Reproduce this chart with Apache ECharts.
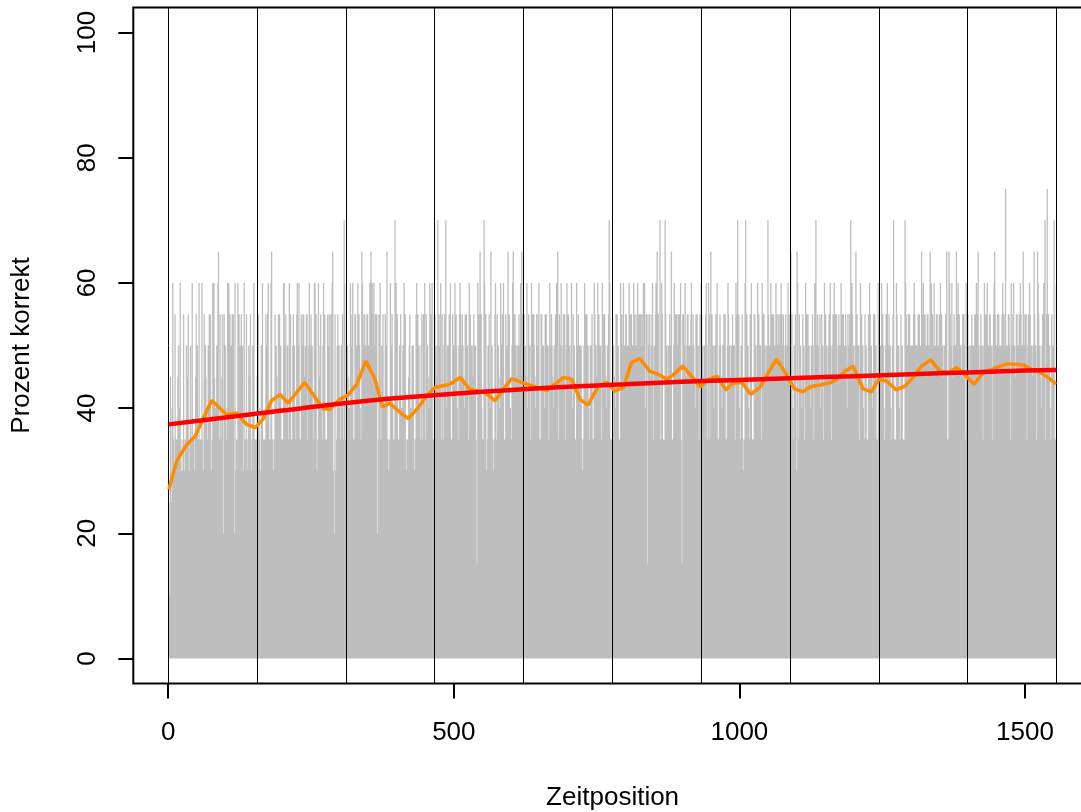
<!DOCTYPE html>
<html><head><meta charset="utf-8">
<script src="https://cdn.jsdelivr.net/npm/echarts@6/dist/echarts.min.js"></script>
<style>html,body{margin:0;padding:0;background:#fff}#c{width:1081px;height:812px}</style>
</head><body><div id="c"></div>
<script>
// Percent correct per time position (positions 1..1555), one array per session block
const session1 = [
25,10,10,45,20,25,40,60,35,25,30,55,20,35,30,35,
45,50,25,40,60,35,30,30,20,35,55,30,25,35,30,
50,40,45,55,25,30,35,50,30,35,60,25,35,35,30,25,
45,55,40,50,35,30,60,30,35,35,25,60,35,30,30,
55,50,50,45,40,35,30,50,50,55,35,55,30,30,35,60,
50,60,45,35,40,30,50,35,60,65,35,30,55,30,35,
45,55,15,20,55,35,50,35,25,40,60,35,60,30,55,35,
50,45,55,40,55,20,15,60,30,30,35,35,60,25,55,
45,50,40,55,35,50,30,25,60,35,35,30,55,35,30,30,
50,40,45,55,25,30,35,50,30,60,35,35,30,35,30];
const session2 = [
45,50,55,40,35,30,25,50,35,60,30,35,30,35,30,55,
50,45,55,60,40,30,35,35,60,65,30,35,30,25,35,
55,50,50,45,35,40,55,30,55,50,50,35,30,35,35,60,
60,45,50,55,40,30,50,35,35,60,30,55,35,30,35,
50,55,45,50,40,35,30,55,60,50,35,60,35,30,35,55,
55,50,50,55,45,35,50,40,55,55,35,35,50,60,30,
50,55,45,50,40,30,35,60,60,35,55,30,30,35,60,30,
45,50,55,40,30,35,50,60,35,55,30,35,35,30,55,
50,45,55,40,30,55,35,60,65,30,15,20,55,30,30,35,
50,55,45,50,40,30,35,50,35,55,30,35,70,60,35,30];
const session3 = [
55,50,50,45,35,40,30,60,55,50,35,60,30,35,35,55,
55,50,50,45,60,35,55,50,40,35,35,65,60,55,35,
50,55,45,50,50,55,55,40,50,35,60,55,65,30,60,35,
55,60,50,45,55,35,55,15,20,35,55,40,60,35,35,
50,45,55,35,40,35,55,50,30,65,35,30,30,35,35,60,
45,50,55,40,30,35,35,70,30,60,35,55,30,35,30,
50,45,55,35,40,35,50,30,60,35,55,30,30,35,35,35,
45,50,55,35,40,30,50,35,50,35,30,30,35,55,60,
50,55,45,50,40,30,35,50,55,35,30,55,30,60,35,35,
55,50,50,45,35,40,60,35,55,50,60,30,35,30,55];
const session4 = [
55,50,50,45,35,70,40,55,35,50,60,35,30,55,30,35,
50,55,45,70,40,35,50,35,50,55,30,60,30,35,35,
55,50,50,45,60,35,55,50,40,35,35,50,55,60,55,35,
50,55,50,45,35,40,55,30,55,50,50,35,35,60,30,
55,50,50,50,45,40,55,35,50,50,35,15,10,60,35,55,
50,65,45,55,40,30,35,35,70,60,35,55,30,30,35,
50,45,55,40,30,65,35,50,35,30,30,35,55,60,30,35,
55,50,50,45,35,40,60,35,50,55,30,60,30,35,35,
55,50,50,45,65,35,55,35,40,35,35,50,60,65,55,30,
55,50,50,45,35,50,40,55,35,50,60,35,65,35,55,30];
const session5 = [
55,50,50,45,35,60,40,35,55,50,50,35,30,60,30,55,
50,55,50,45,35,40,55,35,50,55,60,30,35,30,55,
55,45,50,50,35,40,55,30,55,35,50,50,35,35,60,30,
50,55,50,45,35,40,50,35,55,50,60,35,65,30,35,
55,50,50,60,45,35,50,55,40,55,35,35,50,60,55,30,
55,50,50,45,35,60,40,35,55,50,50,35,35,30,60,
50,45,55,50,40,50,35,50,35,30,30,35,50,60,35,55,
50,55,45,50,40,30,35,50,50,35,55,30,35,35,60,
55,50,50,45,35,60,40,55,35,50,50,35,30,60,35,55,
50,55,50,45,35,40,50,35,55,70,60,35,35,30,35];
const session6 = [
55,50,50,45,35,40,55,30,55,50,50,35,35,30,60,35,
55,50,50,60,45,50,40,55,55,35,50,35,50,60,55,
50,55,55,50,50,45,60,55,50,40,55,35,50,60,55,55,
55,50,55,55,45,50,55,60,50,60,35,40,55,15,15,
55,50,50,55,45,40,50,55,60,35,35,50,50,55,60,30,
65,50,55,45,40,70,35,35,60,55,35,30,35,35,70,
55,50,50,45,40,50,35,55,50,50,65,30,35,35,50,60,
50,55,55,55,45,50,55,55,55,50,60,35,15,10,55,
55,50,50,60,45,40,50,55,55,50,35,50,35,55,60,30,
50,55,50,45,35,40,55,50,55,35,50,35,30,55,50,60];
const session7 = [
55,50,50,45,35,50,40,55,60,50,35,35,60,55,30,35,
65,50,55,45,50,40,35,50,35,55,50,60,35,35,30,
50,55,50,45,35,40,50,35,55,50,55,35,35,30,50,60,
55,50,50,45,35,50,40,55,35,50,50,35,35,60,55,
50,70,45,55,40,30,35,50,35,55,30,30,35,35,60,70,
50,55,45,50,40,35,30,55,50,60,35,35,30,35,55,
55,50,50,45,35,60,40,55,35,50,50,35,30,60,35,55,
55,50,50,40,45,50,50,70,55,30,50,35,60,55,55,
50,55,55,50,50,45,60,55,50,40,55,35,50,55,50,60,
55,50,50,55,45,40,50,55,35,50,35,60,55,55,30];
const session8 = [
50,65,45,55,40,30,35,50,35,55,30,30,65,60,35,35,
55,50,50,45,40,35,55,50,50,35,35,60,30,55,35,
55,50,50,45,35,40,50,35,55,50,35,35,60,30,70,35,
50,55,50,45,35,55,40,35,55,50,50,35,35,60,30,
55,50,50,45,35,50,55,40,60,50,35,35,50,55,30,60,
50,55,50,55,45,35,50,55,40,50,35,60,55,30,55,
55,50,50,45,55,50,40,35,55,50,50,55,30,70,35,60,
55,50,50,45,35,50,65,40,55,35,50,50,35,35,60,
50,55,45,50,40,35,30,55,50,50,35,35,30,55,35,60,
55,50,50,45,35,40,55,35,55,50,50,35,35,30,60,55];
const session9 = [
55,50,50,45,60,35,55,50,40,35,35,50,55,50,60,30,
50,55,45,50,40,35,35,50,55,70,35,30,35,35,60,
55,50,45,50,40,35,35,55,50,50,35,30,35,35,70,60,
55,50,50,45,55,40,55,35,50,35,50,50,35,55,60,
55,50,45,50,40,50,55,50,55,35,50,30,65,55,50,60,
50,55,55,50,50,45,55,55,40,50,35,65,50,60,55,
55,50,50,60,45,50,40,55,55,35,50,50,55,30,60,35,
55,50,50,45,40,50,35,55,50,65,35,35,30,65,60,
55,50,50,60,45,40,50,55,50,50,35,65,30,55,60,35,
55,50,50,45,35,50,55,40,55,50,35,35,60,55,30];
const session10 = [
55,50,50,45,35,50,40,55,35,50,35,50,55,30,55,60,
55,50,65,50,45,35,50,55,40,50,35,35,50,60,55,
50,55,50,60,45,50,40,55,55,50,50,35,30,50,55,60,
65,55,50,50,45,55,40,55,50,50,35,50,30,55,60,
55,50,50,55,75,40,50,45,50,55,55,50,30,35,60,35,
50,55,60,50,50,45,40,55,55,50,50,35,55,30,60,
55,50,50,45,65,40,50,55,50,55,35,30,50,55,50,60,
55,50,50,45,35,50,40,65,55,50,50,35,30,65,60,
55,50,50,45,35,40,50,55,35,60,35,70,30,35,55,75,
50,55,45,50,40,35,35,55,50,50,35,70,30,35,35,60];

// Running mean (orange): position / percent
const avgX = [1,15,32,47,76,102,120,137,152,166,181,196,210,239,271,283,300,315,330,346,362,375,388,406,420,438,452,467,493,511,528,554,572,601,619,639,663,692,706,721,735,753,768,782,797,811,826,843,858,873,884,901,916,931,946,961,976,989,1004,1020,1036,1051,1065,1080,1096,1111,1127,1141,1157,1171,1185,1199,1216,1231,1244,1258,1275,1290,1304,1319,1335,1351,1366,1380,1395,1411,1427,1442,1456,1471,1497,1512,1526,1541,1554];
const avgY = [27.0,31.6,34.1,35.5,41.2,39.0,39.2,37.4,36.9,38.2,41.2,42.2,40.8,44.1,39.9,39.8,41.4,42.1,43.8,47.5,44.6,40.2,40.8,39.3,38.3,40.1,41.9,43.3,43.8,44.9,43.0,42.5,41.2,44.7,44.1,43.5,42.8,44.9,44.6,41.4,40.5,43.5,44.1,42.7,43.3,47.3,47.9,45.9,45.4,44.6,45.3,46.7,45.1,43.4,44.6,45.1,42.9,44.0,44.1,42.2,43.3,45.7,47.8,45.7,43.1,42.6,43.5,43.7,44.0,44.6,45.9,46.7,43.1,42.6,44.6,44.3,42.9,43.5,44.9,46.7,47.7,45.9,45.7,46.5,45.3,43.8,45.7,46.2,46.7,47.1,46.9,46.2,45.7,44.9,43.8];

// Fitted trend (red)
const fitX = [1,100,200,300,400,500,600,700,800,900,1000,1100,1200,1300,1400,1500,1555];
const fitY = [37.4,38.5,39.6,40.7,41.6,42.3,42.9,43.4,43.8,44.2,44.5,44.8,45.1,45.4,45.7,46.0,46.1];

// Session boundaries (vertical black lines) and axis ticks
const sessionBreaks = [0,155.5,311,466.5,622,777.5,933,1088.5,1244,1399.5,1555];
const xTicks = [0,500,1000,1500];
const yTicks = [0,20,40,60,80,100];

const values = [].concat(session1,session2,session3,session4,session5,session6,session7,session8,session9,session10);
const grayData = values.map((v,i)=>[i+1,v]);
const avgData = avgX.map((x,i)=>[x,avgY[i]]);
const fitData = fitX.map((x,i)=>[x,fitY[i]]);

const FONT = "'Liberation Sans', Arial, Helvetica, sans-serif";
const chart = echarts.init(document.getElementById('c'), null, {renderer:'canvas'});
chart.setOption({
  animation:false,
  backgroundColor:'#fff',
  grid:{left:133.3, top:7.5, width:958.6, height:676, show:true, borderColor:'#000', borderWidth:2,
        backgroundColor:'transparent', containLabel:false, outerBoundsMode:'none'},
  xAxis:{type:'value', min:-61.16, max:1617.16,
    axisLine:{show:false, onZero:false}, splitLine:{show:false},
    axisTick:{show:true, inside:false, customValues:xTicks, length:15, lineStyle:{color:'#000', width:2}},
    axisLabel:{customValues:xTicks, fontSize:26, color:'#000', margin:36, fontFamily:FONT,
               formatter:(v)=>String(v)},
    name:'Zeitposition', nameLocation:'middle', nameGap:101,
    nameTextStyle:{fontSize:26, color:'#000', fontFamily:FONT}},
  yAxis:{type:'value', min:-4, max:104,
    axisLine:{show:false, onZero:false}, splitLine:{show:false},
    axisTick:{show:true, inside:false, customValues:yTicks, length:15, lineStyle:{color:'#000', width:2}},
    axisLabel:{customValues:yTicks, fontSize:26, color:'#000', margin:32, rotate:90, fontFamily:FONT,
               formatter:(v)=>String(v)},
    name:'Prozent korrekt', nameLocation:'middle', nameGap:98, nameRotate:90,
    nameTextStyle:{fontSize:26, color:'#000', fontFamily:FONT}},
  series:[
    {type:'bar', data:grayData, barWidth:1.3, large:true, largeThreshold:100, silent:true, z:1,
     itemStyle:{color:'#BEBEBE'},
     markLine:{silent:true, z:2, symbol:['none','none'], label:{show:false},
       lineStyle:{color:'#000', width:1, type:'solid'},
       data:sessionBreaks.map(x=>({xAxis:x}))}},
    {type:'line', data:avgData, showSymbol:false, silent:true, z:3,
     lineStyle:{color:'#FF8C00', width:3.5}, itemStyle:{color:'#FF8C00'}},
    {type:'line', data:fitData, smooth:0.3, showSymbol:false, silent:true, z:4,
     lineStyle:{color:'#FF0000', width:4.5}, itemStyle:{color:'#FF0000'}}
  ]
});
</script></body></html>
